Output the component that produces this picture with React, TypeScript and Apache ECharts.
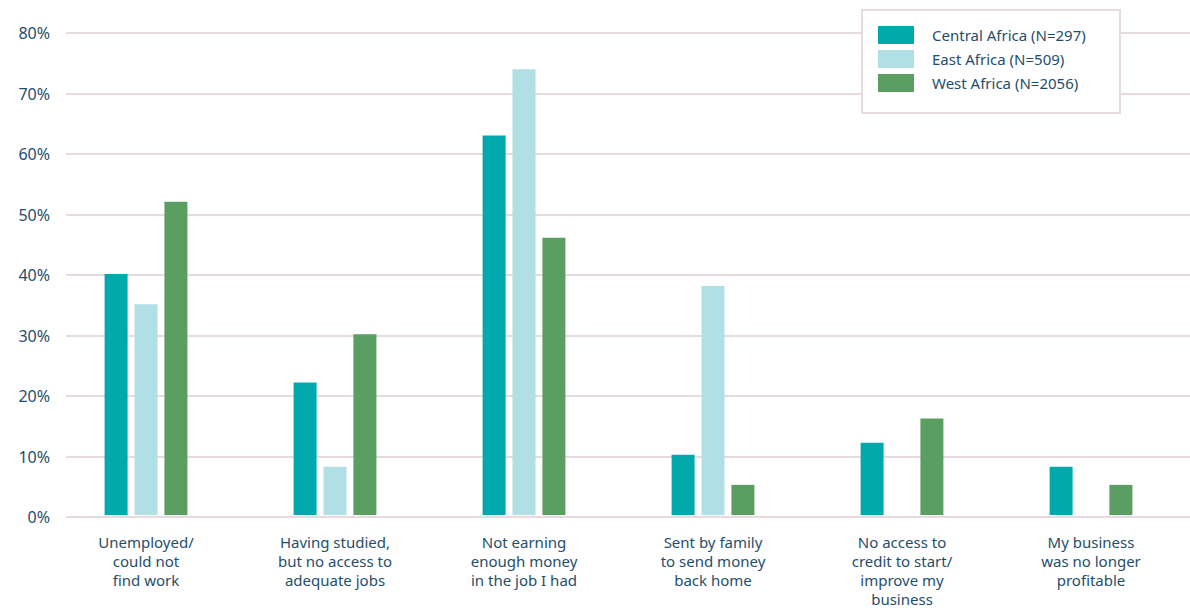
import React, { useEffect, useRef } from "react";
import * as echarts from "echarts";

const categories = [
  "Unemployed/\ncould not\nfind work",
  "Having studied,\nbut no access to\nadequate jobs",
  "Not earning\nenough money\nin the job I had",
  "Sent by family\nto send money\nback home",
  "No access to\ncredit to start/\nimprove my\nbusiness",
  "My business\nwas no longer\nprofitable",
];
const seriesNames = ["Central Africa (N=297)", "East Africa (N=509)", "West Africa (N=2056)"];
const centralAfrica = [40, 22, 63, 10, 12, 8];
const eastAfrica: (number | null)[] = [35, 8, 74, 38, null, null];
const westAfrica = [52, 30, 46, 5, 16, 5];
const yTicks = [0, 10, 20, 30, 40, 50, 60, 70, 80];

const colors = ["#00A9AC", "#B0DFE5", "#5A9E62"];
const textColor = "#1F4E6B";
const lineColor = "#E6DCDF";
const font = "'Noto Sans', 'Open Sans', sans-serif";

export default function App() {
  const ref = useRef<HTMLDivElement>(null);
  useEffect(() => {
    if (!ref.current) return;
    const chart = echarts.init(ref.current, null, { renderer: "svg" });
    const data = [centralAfrica, eastAfrica, westAfrica];
    chart.setOption({
      animation: false,
      backgroundColor: "#ffffff",
      textStyle: { fontFamily: font },
      grid: [
        { left: 66, right: 0, top: 33, bottom: 91, containLabel: false },
        { left: 51.5, right: 4.5, top: 33, bottom: 91, containLabel: false },
      ],
      xAxis: [
        { type: "category", gridIndex: 0, data: categories, show: false },
        {
          type: "category",
          gridIndex: 1,
          data: categories,
          axisLine: { show: false },
          axisTick: { show: false },
          axisLabel: {
            color: textColor,
            fontSize: 15,
            lineHeight: 19,
            margin: 17,
            fontFamily: font,
            interval: 0,
            align: "center",
          },
        },
      ],
      yAxis: [
        {
          type: "value",
          gridIndex: 0,
          min: 0,
          max: 80,
          interval: 10,
          axisLine: { show: false },
          axisTick: { show: false },
          axisLabel: {
            color: textColor,
            fontSize: 16,
            margin: 16,
            fontFamily: font,
            formatter: (v: number) => (yTicks.includes(v) ? `${v}%` : ""),
          },
          splitLine: { show: true, lineStyle: { color: lineColor, width: 2 } },
        },
        { type: "value", gridIndex: 1, min: 0, max: 80, interval: 10, show: false },
      ],
      legend: {
        orient: "vertical",
        left: 878,
        top: 26,
        padding: 0,
        itemWidth: 36,
        itemHeight: 18,
        itemGap: 6,
        icon: "rect",
        data: seriesNames,
        textStyle: {
          color: textColor,
          fontSize: 15,
          fontFamily: font,
          padding: [0, 0, 0, 13],
        },
        z: 20,
      },
      graphic: [
        {
          type: "rect",
          left: 861,
          top: 9,
          shape: { x: 0, y: 0, width: 258, height: 103 },
          style: { fill: "#ffffff", stroke: lineColor, lineWidth: 2 },
          z: 10,
        },
      ],
      series: seriesNames.map((name, i) => ({
        name,
        type: "bar",
        xAxisIndex: 1,
        yAxisIndex: 1,
        data: data[i],
        barWidth: 23,
        barGap: "30%",
        itemStyle: { color: colors[i] },
      })),
    });
    return () => chart.dispose();
  }, []);
  return (
    <div
      ref={ref}
      style={{ position: "fixed", left: 0, top: 0, width: 1190, height: 608 }}
    />
  );
}
